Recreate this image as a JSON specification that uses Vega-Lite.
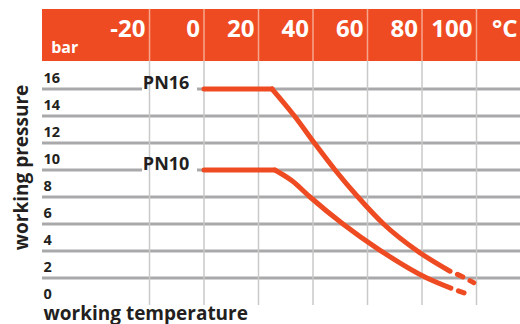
{
  "$schema": "https://vega.github.io/schema/vega-lite/v6.json",
  "width": 478,
  "height": 296,
  "autosize": {"type": "none"},
  "padding": {"left": 42, "top": 9, "right": 0, "bottom": 19},
  "background": "white",
  "config": {
    "view": {"stroke": null},
    "font": "Open Sans",
    "axisX": {
      "labels": false, "ticks": false, "domain": false, "grid": false,
      "titleAnchor": "start", "titleAlign": "left", "titleX": 1, "titleY": 14, "titleBaseline": "alphabetic",
      "titleFontSize": 19, "titleFontWeight": "bold", "titleColor": "#231f20"
    },
    "axisY": {
      "grid": false, "ticks": false, "domain": false,
      "labelAlign": "left", "labelPadding": -1, "labelBaseline": "alphabetic", "labelOffset": -7,
      "labelFontSize": 14.5, "labelFontWeight": "bold", "labelColor": "#231f20",
      "labelFlush": false, "labelOverlap": false, "labelBound": false,
      "titleAngle": -90, "titleX": -21, "titleY": 158, "titleAlign": "center", "titleBaseline": "middle",
      "titleFontSize": 19, "titleFontWeight": "bold", "titleColor": "#231f20"
    }
  },
  "datasets": {
    "curves": [
      {"series": "PN16", "part": "flat", "T": 0, "P": 16},
      {"series": "PN16", "part": "flat", "T": 25, "P": 16},
      {"series": "PN16", "part": "solid", "T": 25, "P": 16},
      {"series": "PN16", "part": "solid", "T": 33.2, "P": 14},
      {"series": "PN16", "part": "solid", "T": 40.5, "P": 12},
      {"series": "PN16", "part": "solid", "T": 48.1, "P": 10},
      {"series": "PN16", "part": "solid", "T": 56.5, "P": 8},
      {"series": "PN16", "part": "solid", "T": 65.9, "P": 6},
      {"series": "PN16", "part": "solid", "T": 78.3, "P": 4},
      {"series": "PN16", "part": "solid", "T": 90.3, "P": 2.5},
      {"series": "PN16", "part": "dashed", "T": 90.3, "P": 2.5},
      {"series": "PN16", "part": "dashed", "T": 94.5, "P": 2.13},
      {"series": "PN16", "part": "dashed", "T": 99, "P": 1.65},
      {"series": "PN10", "part": "flat", "T": 0, "P": 10},
      {"series": "PN10", "part": "flat", "T": 26, "P": 10},
      {"series": "PN10", "part": "solid", "T": 26, "P": 10},
      {"series": "PN10", "part": "solid", "T": 32.3, "P": 9.2},
      {"series": "PN10", "part": "solid", "T": 38.9, "P": 8},
      {"series": "PN10", "part": "solid", "T": 51, "P": 6},
      {"series": "PN10", "part": "solid", "T": 64.6, "P": 4.05},
      {"series": "PN10", "part": "solid", "T": 81.8, "P": 2},
      {"series": "PN10", "part": "solid", "T": 90.6, "P": 1.25},
      {"series": "PN10", "part": "dashed", "T": 90.6, "P": 1.25},
      {"series": "PN10", "part": "dashed", "T": 93.5, "P": 1.03},
      {"series": "PN10", "part": "dashed", "T": 96.1, "P": 0.85}
    ],
    "hgrid": [
      {"P": 2, "from": -59.45, "to": 115.96},
      {"P": 4, "from": -59.45, "to": 115.96},
      {"P": 6, "from": -59.45, "to": 115.96},
      {"P": 8, "from": -59.45, "to": 115.96},
      {"P": 10, "from": -59.45, "to": -22.75},
      {"P": 10, "from": -2.57, "to": 115.96},
      {"P": 12, "from": -59.45, "to": 115.96},
      {"P": 14, "from": -59.45, "to": 115.96},
      {"P": 16, "from": -59.45, "to": -22.75},
      {"P": 16, "from": -2.57, "to": 115.96}
    ],
    "temps": [
      {"T": -20, "label": "-20"},
      {"T": 0, "label": "0"},
      {"T": 20, "label": "20"},
      {"T": 40, "label": "40"},
      {"T": 60, "label": "60"},
      {"T": 80, "label": "80"},
      {"T": 100, "label": "100"}
    ],
    "pn": [
      {"label": "PN16", "T": -13.9, "P": 16},
      {"label": "PN10", "T": -13.9, "P": 10}
    ]
  },
  "layer": [
    {
      "data": {"name": "hgrid"},
      "mark": {"type": "rule", "color": "#a9a9ac", "strokeWidth": 3},
      "encoding": {
        "x": {
          "field": "from", "type": "quantitative",
          "scale": {"domain": [-59.45, 115.96], "nice": false, "zero": false},
          "axis": {"title": "working temperature"}
        },
        "x2": {"field": "to"},
        "y": {
          "field": "P", "type": "quantitative",
          "scale": {"domain": [0, 21.926], "nice": false, "zero": true},
          "axis": {"title": "working pressure", "values": [0, 2, 4, 6, 8, 10, 12, 14, 16], "labelOverlap": false}
        }
      }
    },
    {
      "data": {"name": "temps"},
      "mark": {"type": "rule", "color": "#c9c9c9", "strokeWidth": 1.5},
      "encoding": {
        "x": {"field": "T", "type": "quantitative", "axis": {"title": "working temperature"}},
        "y": {"datum": 0, "type": "quantitative", "axis": {"title": "working pressure", "values": [0, 2, 4, 6, 8, 10, 12, 14, 16], "labelOverlap": false}},
        "y2": {"datum": 18.07}
      }
    },
    {
      "data": {"values": [{}]},
      "mark": {"type": "rect", "color": "#ef4b23"},
      "encoding": {
        "x": {"datum": -59.45, "type": "quantitative", "axis": {"title": "working temperature"}},
        "x2": {"datum": 115.96},
        "y": {"datum": 18.07, "type": "quantitative", "axis": {"title": "working pressure", "values": [0, 2, 4, 6, 8, 10, 12, 14, 16], "labelOverlap": false}},
        "y2": {"datum": 21.926}
      }
    },
    {
      "data": {"name": "temps"},
      "mark": {"type": "rule", "color": "#f7a68e", "strokeWidth": 1.5},
      "encoding": {
        "x": {"field": "T", "type": "quantitative", "axis": {"title": "working temperature"}},
        "y": {"datum": 18.07, "type": "quantitative", "axis": {"title": "working pressure", "values": [0, 2, 4, 6, 8, 10, 12, 14, 16], "labelOverlap": false}},
        "y2": {"datum": 21.926}
      }
    },
    {
      "data": {"name": "temps"},
      "mark": {"type": "text", "color": "white", "fontSize": 24, "fontWeight": "bold", "align": "right", "baseline": "alphabetic", "dx": -4},
      "encoding": {
        "x": {"field": "T", "type": "quantitative", "axis": {"title": "working temperature"}},
        "y": {"datum": 19.85, "type": "quantitative", "axis": {"title": "working pressure", "values": [0, 2, 4, 6, 8, 10, 12, 14, 16], "labelOverlap": false}},
        "text": {"field": "label"}
      }
    },
    {
      "data": {"values": [{"label": "°C"}]},
      "mark": {"type": "text", "color": "white", "fontSize": 24, "fontWeight": "bold", "align": "left", "baseline": "alphabetic"},
      "encoding": {
        "x": {"datum": 105.7, "type": "quantitative", "axis": {"title": "working temperature"}},
        "y": {"datum": 19.85, "type": "quantitative", "axis": {"title": "working pressure", "values": [0, 2, 4, 6, 8, 10, 12, 14, 16], "labelOverlap": false}},
        "text": {"field": "label"}
      }
    },
    {
      "data": {"values": [{"label": "bar"}]},
      "mark": {"type": "text", "color": "white", "fontSize": 16, "fontWeight": "bold", "align": "left", "baseline": "alphabetic"},
      "encoding": {
        "x": {"datum": -56.1, "type": "quantitative", "axis": {"title": "working temperature"}},
        "y": {"datum": 18.67, "type": "quantitative", "axis": {"title": "working pressure", "values": [0, 2, 4, 6, 8, 10, 12, 14, 16], "labelOverlap": false}},
        "text": {"field": "label"}
      }
    },
    {
      "data": {"name": "curves"},
      "transform": [{"filter": "datum.part !== 'dashed'"}],
      "mark": {"type": "line", "color": "#ef4b23", "strokeWidth": 5, "strokeCap": "round", "strokeJoin": "round", "interpolate": "monotone"},
      "encoding": {
        "x": {"field": "T", "type": "quantitative", "axis": {"title": "working temperature"}},
        "y": {"field": "P", "type": "quantitative", "axis": {"title": "working pressure", "values": [0, 2, 4, 6, 8, 10, 12, 14, 16], "labelOverlap": false}},
        "detail": [{"field": "series"}, {"field": "part"}],
        "order": {"field": "T"}
      }
    },
    {
      "data": {"name": "curves"},
      "transform": [{"filter": "datum.part === 'dashed'"}],
      "mark": {"type": "line", "color": "#ef4b23", "strokeWidth": 5, "strokeCap": "round", "strokeJoin": "round", "interpolate": "monotone", "strokeDash": [6, 8], "strokeDashOffset": 6},
      "encoding": {
        "x": {"field": "T", "type": "quantitative", "axis": {"title": "working temperature"}},
        "y": {"field": "P", "type": "quantitative", "axis": {"title": "working pressure", "values": [0, 2, 4, 6, 8, 10, 12, 14, 16], "labelOverlap": false}},
        "detail": {"field": "series"},
        "order": {"field": "T"}
      }
    },
    {
      "data": {"name": "pn"},
      "mark": {"type": "text", "color": "#231f20", "fontSize": 18, "fontWeight": "bold", "align": "center", "baseline": "middle", "dy": -5},
      "encoding": {
        "x": {"field": "T", "type": "quantitative", "axis": {"title": "working temperature"}},
        "y": {"field": "P", "type": "quantitative", "axis": {"title": "working pressure", "values": [0, 2, 4, 6, 8, 10, 12, 14, 16], "labelOverlap": false}},
        "text": {"field": "label"}
      }
    }
  ]
}
